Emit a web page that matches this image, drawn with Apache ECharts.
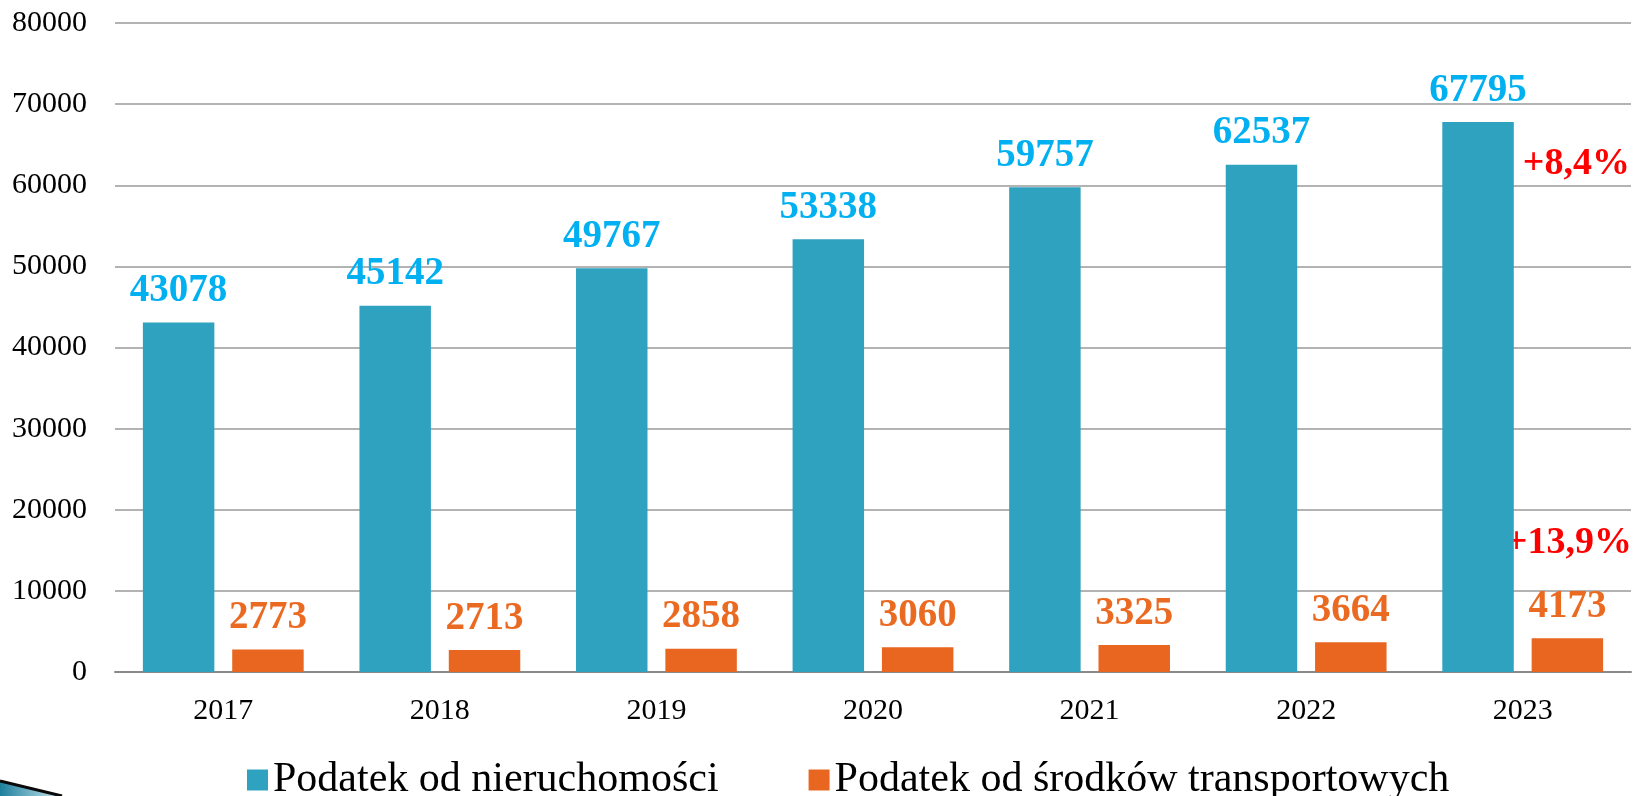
<!DOCTYPE html>
<html>
<head>
<meta charset="utf-8">
<script src="https://cdn.jsdelivr.net/npm/echarts@6/dist/echarts.min.js"></script>
<style>
html,body{margin:0;padding:0;background:#fff;}
#chart{width:1642px;height:796px;}
</style>
</head>
<body>
<div id="chart"></div>
<script>
const categories = ['2017','2018','2019','2020','2021','2022','2023'];
const seriesNames = ['Podatek od nieruchomości','Podatek od środków transportowych'];
const propertyTax = [43078,45142,49767,53338,59757,62537,67795];
const transportTax = [2773,2713,2858,3060,3325,3664,4173];
const growthNotes = ['+8,4%','+13,9%'];

const FONT = '"Liberation Serif", "Times New Roman", serif';
const chart = echarts.init(document.getElementById('chart'), null, {renderer:'canvas'});

chart.setOption({
  animation:false,
  backgroundColor:'#ffffff',
  grid:{left:115, right:11, top:23, bottom:124, containLabel:false},
  legend:{
    left:242, top:754,
    itemWidth:21, itemHeight:21, itemGap:90,
    icon:'rect',
    textStyle:{fontFamily:FONT, fontSize:42, color:'#000'},
    data:seriesNames
  },
  xAxis:{
    type:'category', data:categories,
    axisLine:{show:true, lineStyle:{color:'#8a8a8a', width:2}},
    axisTick:{show:false},
    axisLabel:{fontFamily:FONT, fontSize:30, color:'#000', margin:24}
  },
  yAxis:{
    type:'value', min:0, max:80000, interval:10000,
    axisLine:{show:false}, axisTick:{show:false},
    axisLabel:{fontFamily:FONT, fontSize:30, color:'#000', margin:28,
      formatter:function(v){return String(v);}},
    splitLine:{lineStyle:{color:'#9a9a9a', width:1.5}}
  },
  series:[
    {
      name:seriesNames[0], type:'bar', data:propertyTax,
      barWidth:'33%', barGap:'25%',
      itemStyle:{color:'#2EA2BF'},
      label:{show:true, position:'top', distance:12,
        fontFamily:FONT, fontSize:39, fontWeight:'bold', color:'#00B0F0'}
    },
    {
      name:seriesNames[1], type:'bar', data:transportTax,
      barWidth:'33%', barGap:'25%',
      itemStyle:{color:'#E8661F'},
      label:{show:true, position:'top', distance:12,
        fontFamily:FONT, fontSize:39, fontWeight:'bold', color:'#EB6A22'}
    }
  ],
  graphic:[
    {type:'text', right:12, top:145,
      style:{text:growthNotes[0], font:'bold 38px '+FONT, fill:'#FF0000'}},
    {type:'text', right:10, top:524,
      style:{text:growthNotes[1], font:'bold 38px '+FONT, fill:'#FF0000'}},
    {type:'polygon', silent:true,
      shape:{points:[[0,781],[62,796],[0,796]]},
      style:{fill:new echarts.graphic.LinearGradient(0,0,1,0,[{offset:0,color:'#1d7f9c'},{offset:1,color:'#cfeaf2'}])}},
    {type:'polyline', silent:true,
      shape:{points:[[0,781],[62,796]]},
      style:{stroke:'#0a0a0a', lineWidth:3}}
  ]
});
</script>
</body>
</html>
